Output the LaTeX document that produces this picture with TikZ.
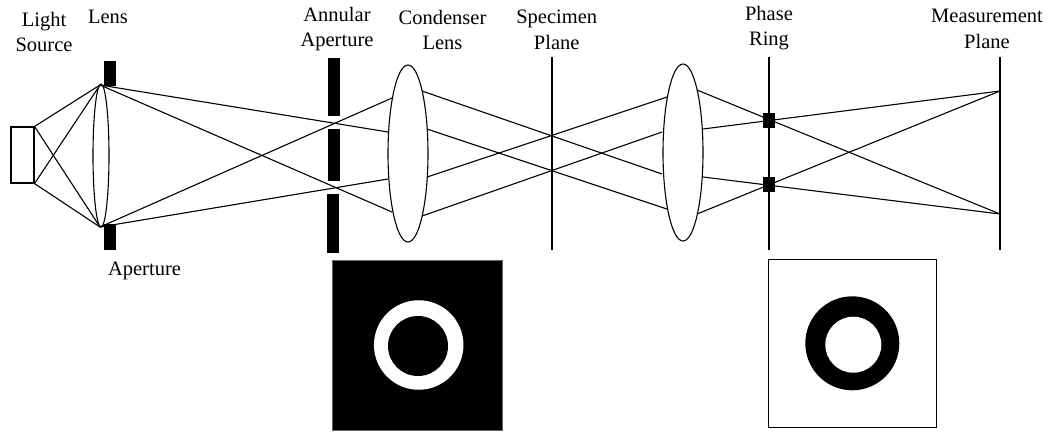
\documentclass[tikz,border=0pt]{standalone}
\usepackage{fontspec}
\setmainfont{Liberation Serif}
\usetikzlibrary{positioning,shapes.geometric}

\begin{document}
\begin{tikzpicture}[
  x=1pt, y=-1pt,
  font=\fontsize{20.5}{25.5}\selectfont,
  caption/.style={align=center, inner sep=0pt},
  ray/.style={line width=1.1pt},
  plane/.style={line width=1.2pt},
  lens/.style={draw, ellipse, line width=1.1pt, inner sep=0pt},
  stopbar/.style={fill=black, draw=none, minimum width=12pt, inner sep=0pt},
  ringmark/.style={fill=black, draw=none, minimum width=12pt, minimum height=15pt, inner sep=0pt},
  panel/.style={draw, inner sep=0pt, line width=1.2pt},
  disc/.style={circle, draw=none, inner sep=0pt}
]
\useasboundingbox (0,0) rectangle (1056,432);
% light source and first lens
\node[draw, line width=1.1pt, minimum width=23pt, minimum height=56pt, inner sep=0pt] (source) at (22.5,155) {};
\node[lens, minimum width=16pt, minimum height=143pt] (lensA) at (101,155.5) {};
\node[stopbar, minimum height=25pt] (stopA) at (110,73.5) {};
\node[stopbar, minimum height=26pt] (stopB) at (109.5,237) {};
\coordinate (lensAtop) at (100,85);
\coordinate (lensAbot) at (100,227);
% annular aperture
\node[stopbar, minimum height=58pt] (annA) at (334,87) {};
\node[stopbar, minimum height=52pt] (annB) at (334,155) {};
\node[stopbar, minimum height=59pt] (annC) at (333,223.5) {};
% lenses
\node[lens, minimum width=40pt, minimum height=177pt, fill=white] (condenser) at (408,153.5) {};
\node[lens, minimum width=40pt, minimum height=177pt, fill=white] (objective) at (683,152.5) {};
% planes
\node[minimum width=0pt, inner sep=0pt, minimum height=193pt] (specimen) at (552,153.5) {};
\node[minimum width=0pt, inner sep=0pt, minimum height=193pt] (phase) at (769,153.5) {};
\node[minimum width=0pt, inner sep=0pt, minimum height=193pt] (measure) at (1000,153.5) {};
\draw[plane] (specimen.north) -- (specimen.south);
\draw[plane] (phase.north) -- (phase.south);
\draw[plane] (measure.north) -- (measure.south);
\node[ringmark] (markA) at (769,120.5) {};
\node[ringmark] (markB) at (769,184.5) {};
\coordinate (hitA) at (1000,91);
\coordinate (hitB) at (1000,214);
% ray end points on the lenses
\coordinate (cA) at (392,98);
\coordinate (cB) at (388,132);
\coordinate (cC) at (388,179);
\coordinate (cD) at (392,212);
\coordinate (dA) at (422,91);
\coordinate (dB) at (427,129);
\coordinate (dC) at (427,177);
\coordinate (dD) at (422,216);
\coordinate (eA) at (667,97);
\coordinate (eB) at (662,132);
\coordinate (eC) at (662,174);
\coordinate (eD) at (667,209);
\coordinate (fA) at (697,90);
\coordinate (fB) at (703,129);
\coordinate (fC) at (703,177);
\coordinate (fD) at (697,214);
% rays
\draw[ray] (source.north east) -- (lensAtop);
\draw[ray] (source.north east) -- (lensAbot);
\draw[ray] (source.south east) -- (lensAtop);
\draw[ray] (source.south east) -- (lensAbot);
\draw[ray] (lensAtop) -- (cB);
\draw[ray] (lensAtop) -- (cD);
\draw[ray] (lensAbot) -- (cA);
\draw[ray] (lensAbot) -- (cC);
\draw[ray] (dA) -- (eC);
\draw[ray] (dB) -- (eD);
\draw[ray] (dC) -- (eA);
\draw[ray] (dD) -- (eB);
\draw[ray] (fA) -- (hitB);
\draw[ray] (fB) -- (hitA);
\draw[ray] (fC) -- (hitB);
\draw[ray] (fD) -- (hitA);
% labels
\node[caption] (lblsource) at (44,32) {Light\\Source};
\node[caption] (lbllens) at (108,17) {Lens};
\node[caption] (lblstop) at (144.5,271) {Aperture};
\node[caption] (lblann) at (337,29) {Annular\\Aperture};
\node[caption] (lblcond) at (442.5,30) {Condenser\\Lens};
\node[caption] (lblspec) at (556.7,30) {Specimen\\Plane};
\node[caption] (lblphase) at (769,28) {Phase\\Ring};
\node[caption] (lblmeas) at (987,29) {Measurement\\Plane};
% lower panels
\node[panel, fill=black, draw=black!60, line width=0.6pt, minimum width=170pt, minimum height=170pt] (panelA) at (417.7,345) {};
\node[disc, fill=white, minimum size=89.5pt] (ringA) at (418.7,345) {};
\node[disc, fill=black, minimum size=60pt] (holeA) at (418,346) {};
\node[panel, fill=white, minimum width=168pt, minimum height=168pt] (panelB) at (852.7,343.7) {};
\node[disc, fill=black, minimum size=94pt] (ringB) at (852.3,343.3) {};
\node[disc, fill=white, minimum size=56pt] (holeB) at (853.3,344.7) {};
\end{tikzpicture}
\end{document}
